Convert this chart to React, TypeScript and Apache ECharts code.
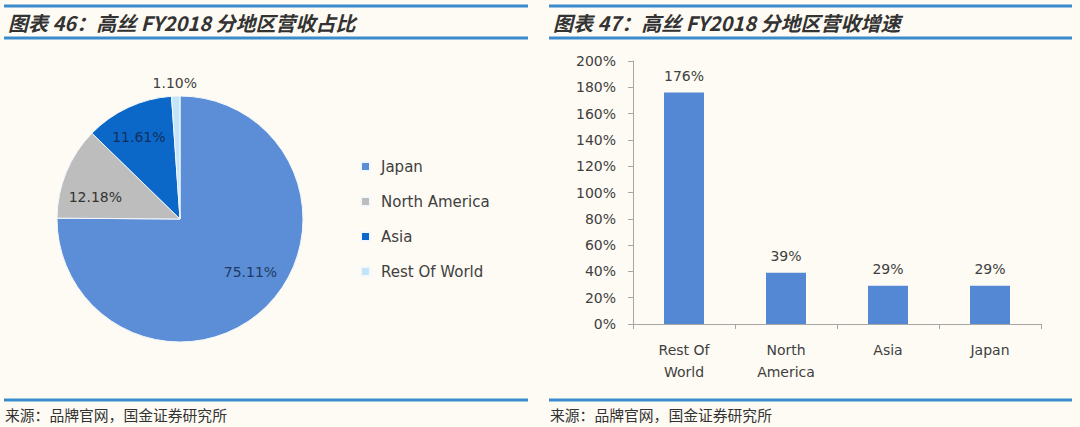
import React, { useRef, useEffect } from 'react';
import * as echarts from 'echarts';

const regionNames = ['Japan', 'North America', 'Asia', 'Rest Of World'];
const regionShares = [75.11, 12.18, 11.61, 1.1];
const shareLabels = ['75.11%', '12.18%', '11.61%', '1.10%'];
const regionColors = ['#5B8ED6', '#BDBDBD', '#0B67C8', '#C3E5F8'];

const growthCategories = ['Rest Of\nWorld', 'North\nAmerica', 'Asia', 'Japan'];
const growthValues = [176, 39, 29, 29];

const leftTitle = '图表 46：高丝 FY2018 分地区营收占比';
const rightTitle = '图表 47：高丝 FY2018 分地区营收增速';
const sourceNote = '来源：品牌官网，国金证券研究所';

const FONT = '"DejaVu Sans", Verdana, sans-serif';
const CJK = '"Noto Sans CJK SC", sans-serif';
const LINE = '#3A8BCB';

// per-slice label nudges so they sit where the original put them
const labelOffsets: [number, number][] = [[25, 7], [-25, 2], [-14, -23], [-3, -72]];
const labelColors = ['#1F3A66', '#333333', '#10305A', '#404040'];

function rule(x1: number, x2: number, y: number) {
  return { type: 'line', shape: { x1, y1: y, x2, y2: y }, style: { stroke: LINE, lineWidth: 3 }, silent: true };
}

function heading(x: number, text: string) {
  return {
    type: 'text', x, y: 22,
    style: { text, font: `italic bold 20px ${CJK}`, fill: '#333', verticalAlign: 'middle' },
  };
}

function footnote(x: number) {
  return {
    type: 'text', x, y: 414,
    style: { text: sourceNote, font: `14.8px ${CJK}`, fill: '#333', verticalAlign: 'middle' },
  };
}

export default function App() {
  const chartRef = useRef<HTMLDivElement>(null);

  useEffect(() => {
    document.body.style.margin = '0';
    if (!chartRef.current) return;
    const chart = echarts.init(chartRef.current, undefined, { renderer: 'svg' });

    const option: echarts.EChartsOption = {
      animation: false,
      backgroundColor: '#FEFBF4',
      textStyle: { fontFamily: FONT },
      legend: {
        orient: 'vertical',
        left: 355,
        top: 154,
        itemWidth: 9,
        itemHeight: 9,
        itemGap: 20,
        icon: 'rect',
        data: regionNames,
        textStyle: { fontSize: 15, color: '#404040', fontFamily: FONT, padding: [0, 0, 0, 6] },
      },
      grid: { left: 633, top: 61, width: 408, height: 263 },
      xAxis: {
        type: 'category',
        data: growthCategories,
        axisLine: { lineStyle: { color: '#A6A6A6' } },
        axisTick: { show: true, length: 5, lineStyle: { color: '#A6A6A6' } },
        axisLabel: { fontSize: 14, color: '#404040', lineHeight: 22, margin: 15, fontFamily: FONT },
      },
      yAxis: {
        type: 'value',
        min: 0,
        max: 200,
        interval: 20,
        splitLine: { show: false },
        axisLine: { show: true, lineStyle: { color: '#A6A6A6' } },
        axisTick: { show: true, length: 5, lineStyle: { color: '#A6A6A6' } },
        axisLabel: { formatter: '{value}%', fontSize: 14, color: '#404040', margin: 17, fontFamily: FONT },
      },
      series: [
        {
          type: 'pie',
          center: [180, 219],
          radius: 123,
          startAngle: 90,
          clockwise: true,
          itemStyle: { borderColor: '#F4F8FC', borderWidth: 1 },
          labelLine: { show: false },
          data: regionNames.map((name, i) => ({
            name,
            value: regionShares[i],
            itemStyle: { color: regionColors[i] },
            label: {
              show: true,
              position: 'inside',
              formatter: shareLabels[i],
              offset: labelOffsets[i],
              fontSize: 14,
              color: labelColors[i],
              fontFamily: FONT,
            },
          })),
        },
        {
          type: 'bar',
          data: growthValues,
          barWidth: 40,
          itemStyle: { color: '#5588D4' },
          label: {
            show: true,
            position: 'top',
            distance: 10,
            formatter: '{c}%',
            fontSize: 14,
            color: '#404040',
            fontFamily: FONT,
          },
        },
      ],
      graphic: [
        rule(4, 528, 6),
        rule(4, 528, 38),
        rule(549, 1072, 6),
        rule(549, 1072, 38),
        rule(4, 528, 400),
        rule(549, 1072, 400),
        heading(8, leftTitle),
        heading(553, rightTitle),
        footnote(5),
        footnote(550),
      ] as any,
    };

    chart.setOption(option);
    return () => { chart.dispose(); };
  }, []);

  return <div ref={chartRef} style={{ width: 1080, height: 427 }} />;
}
